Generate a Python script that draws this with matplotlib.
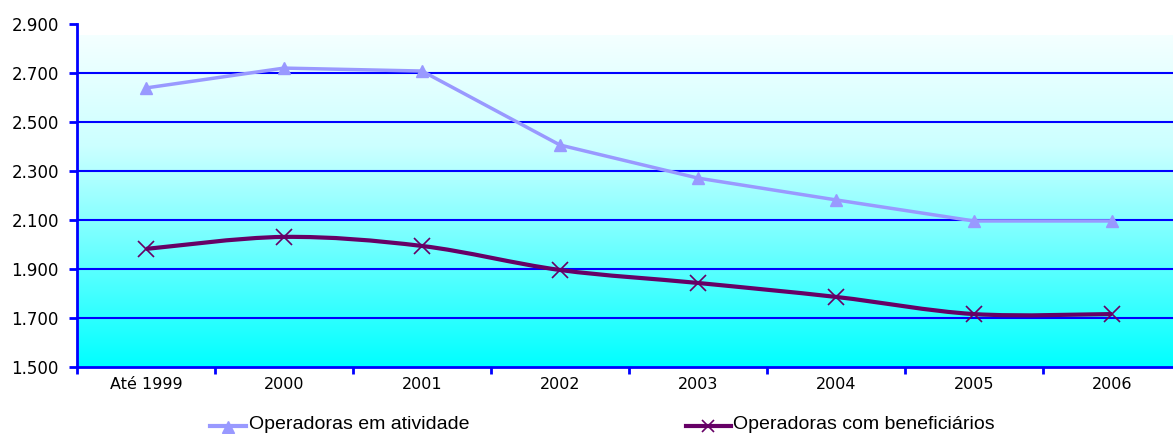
import matplotlib
matplotlib.use("Agg")
import matplotlib.pyplot as plt
import numpy as np
from matplotlib.path import Path
from matplotlib.patches import PathPatch
from matplotlib.lines import Line2D
from matplotlib.colors import LinearSegmentedColormap
from matplotlib import font_manager

categories = ["Até 1999", "2000", "2001", "2002", "2003", "2004", "2005", "2006"]
em_atividade = [2639, 2720, 2708, 2406, 2271, 2182, 2096, 2096]
com_beneficiarios = [1982, 2031, 1994, 1896, 1843, 1786, 1716, 1716]
y_ticks = [1500, 1700, 1900, 2100, 2300, 2500, 2700, 2900]
y_labels = ["1.500", "1.700", "1.900", "2.100", "2.300", "2.500", "2.700", "2.900"]
legend_labels = ["Operadoras em atividade", "Operadoras com beneficiários"]

c_lav = "#9999FF"
c_pur = "#660066"
c_blue = "#0000FF"

names = {f.name for f in font_manager.fontManager.ttflist}
narrow = "Liberation Sans Narrow" if "Liberation Sans Narrow" in names else None

plt.rcParams["font.family"] = ["DejaVu Sans"]

fig = plt.figure(figsize=(11.73, 4.34), dpi=100)
fig.patch.set_facecolor("white")
ax = fig.add_axes([77 / 1173, 67 / 434, 1104 / 1173, 343 / 434])
ax.set_xlim(-0.5, 7.5)
ax.set_ylim(1500, 2900)

# gradient background
grad = np.linspace(0, 1, 256).reshape(-1, 1)
cmap = LinearSegmentedColormap.from_list("bg", ["#00FFFF", "#66FFFF", "#CCFFFF", "#F4FFFF"])
ax.imshow(grad, aspect="auto", cmap=cmap, origin="lower",
          extent=[-0.5, 7.5, 1500, 2855], zorder=0, interpolation="bilinear")
ax.set_facecolor("white")

for y in y_ticks[1:-1]:
    ax.axhline(y, color=c_blue, lw=1.5, zorder=1)

x = np.arange(len(categories))

# lavender straight line
ax.plot(x, em_atividade, color=c_lav, lw=2.5, marker="^", ms=9,
        markerfacecolor=c_lav, markeredgecolor=c_lav, zorder=3, clip_on=False)

# purple smoothed line (Catmull-Rom style bezier)
pts = np.column_stack([x, com_beneficiarios]).astype(float)
verts = [tuple(pts[0])]
codes = [Path.MOVETO]
n = len(pts)
for i in range(n - 1):
    p0 = pts[i - 1] if i > 0 else pts[i]
    p1 = pts[i]
    p2 = pts[i + 1]
    p3 = pts[i + 2] if i + 2 < n else pts[i + 1]
    c1 = p1 + (p2 - p0) / 6
    c2 = p2 - (p3 - p1) / 6
    verts += [tuple(c1), tuple(c2), tuple(p2)]
    codes += [Path.CURVE4] * 3
ax.add_patch(PathPatch(Path(verts, codes), facecolor="none", edgecolor=c_pur,
                       lw=3, zorder=3))
ax.plot(x, com_beneficiarios, ls="none", marker="x", ms=11, mew=1.2,
        color=c_pur, zorder=4)

# axes styling
for s in ["top", "right"]:
    ax.spines[s].set_visible(False)
for s in ["left", "bottom"]:
    ax.spines[s].set_color(c_blue)
    ax.spines[s].set_linewidth(2)

ax.set_yticks(y_ticks)
ax.set_yticklabels(y_labels, fontsize=12)
ax.tick_params(axis="y", color=c_blue, length=6, width=2, direction="out", pad=7)

ax.set_xticks(np.arange(-0.5, 7.5, 1.0))
ax.set_xticklabels([])
ax.set_xticks(x, minor=True)
ax.set_xticklabels(categories, minor=True, fontsize=11.5)
ax.tick_params(axis="x", which="major", color=c_blue, length=5, width=2, direction="out")
ax.tick_params(axis="x", which="minor", length=0, pad=7)

# legend drawn manually at bottom
def fx(px):
    return px / 1173

def fy(py):
    return 1 - py / 434

if narrow:
    leg_font = dict(family=[narrow, "DejaVu Sans"], fontsize=15)
else:
    leg_font = dict(family=["Liberation Sans", "DejaVu Sans"], fontsize=14)

fig.add_artist(Line2D([fx(210), fx(246)], [fy(426), fy(426)], color=c_lav, lw=3,
                      transform=fig.transFigure))
fig.add_artist(Line2D([fx(228)], [fy(427)], color=c_lav, marker="^", ms=9,
                      transform=fig.transFigure))
fig.text(fx(249), fy(429), legend_labels[0], va="baseline", ha="left", **leg_font)
fig.add_artist(Line2D([fx(686), fx(731)], [fy(426), fy(426)], color=c_pur, lw=3,
                      transform=fig.transFigure))
fig.add_artist(Line2D([fx(708)], [fy(426)], color=c_pur, marker="x", ms=8, mew=1.2,
                      transform=fig.transFigure))
fig.text(fx(733), fy(429), legend_labels[1], va="baseline", ha="left", **leg_font)

fig.savefig("out.png", dpi=100)
